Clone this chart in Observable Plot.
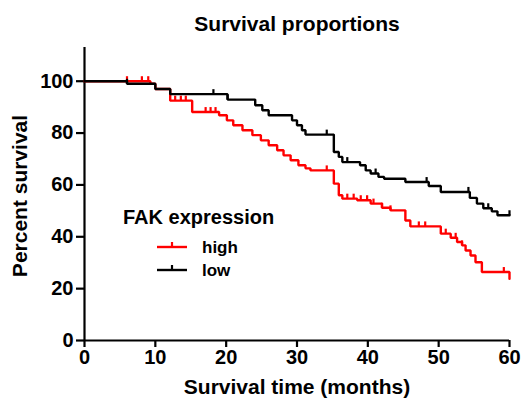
<!DOCTYPE html>
<html><head><meta charset="utf-8">
<script src="https://cdn.jsdelivr.net/npm/d3@7"></script>
<script src="https://cdn.jsdelivr.net/npm/@observablehq/plot@0.6"></script>
<style>
body{margin:0;background:#fff;}
#wrap{position:relative;width:524px;height:406px;font-family:"Liberation Sans",Arial,sans-serif;font-weight:bold;}
#wrap svg{position:absolute;left:0;top:0;}
</style></head><body><div id="wrap"></div>
<script>
// ---- data ----
const chartTitle = "Survival proportions";
const xLabel = "Survival time (months)";
const yLabel = "Percent survival";
const legendTitle = "FAK expression";
const seriesNames = ["high", "low"];
const seriesColors = ["#ff0000", "#000000"];

const xTicks = [0, 10, 20, 30, 40, 50, 60];
const yTicks = [0, 20, 40, 60, 80, 100];

// high FAK expression (red)
const highTimes = [0, 9.3, 10.0, 12.1, 15.2, 19.0, 20.1, 21.0, 22.3, 23.7, 24.9, 26.0, 27.2, 28.1, 29.1, 30.2, 31.2, 31.9, 35.2, 35.9, 36.4, 38.5, 40.4, 42.0, 43.2, 45.3, 46.0, 50.3, 51.7, 52.6, 53.3, 53.8, 54.5, 55.2, 56.1, 60];
const highSurv  = [100, 99, 97, 92.5, 88.1, 86.9, 84.9, 83.0, 81.1, 79.2, 77.2, 75.3, 73.4, 71.4, 69.5, 67.6, 66.4, 65.6, 60.5, 56.0, 54.7, 54.1, 52.8, 51.2, 50.2, 46.3, 44.0, 41.2, 39.6, 38.0, 36.7, 34.7, 32.8, 30.2, 26.4, 23.8];
const highCensor = [6.0, 8.1, 9.0, 12.8, 13.6, 14.3, 17.1, 17.8, 18.5, 34.2, 37.1, 38.0, 39.0, 39.9, 40.8, 42.0, 43.2, 47.2, 48.1, 51.0, 52.4, 53.3, 59.2];

// low FAK expression (black)
const lowTimes = [0, 6.0, 10.0, 12.1, 20.2, 24.1, 25.1, 26.0, 29.3, 30.0, 30.7, 31.2, 35.2, 35.9, 36.4, 38.9, 39.7, 40.4, 41.5, 42.3, 45.3, 48.6, 50.3, 54.4, 55.4, 56.3, 57.5, 58.3, 60];
const lowSurv  = [100, 99, 97, 95, 92.9, 90.7, 88.8, 86.9, 84.9, 83.0, 81.1, 79.4, 72.7, 70.8, 68.8, 67.6, 65.6, 64.4, 63.1, 62.4, 61.1, 59.6, 57.3, 55.0, 52.8, 51.0, 49.8, 48.3, 48.3];
const lowCensor = [6.0, 18.2, 20.2, 34.2, 37.1, 41.1, 48.3, 54.2, 57.0, 60];

// ---- build tables ----
const toRows = (times, surv) => times.map((t, i) => ({t, s: surv[i]}));
const survAt = (times, surv, t) => { let v = surv[0]; for (let i = 0; i < times.length; i++) if (times[i] <= t) v = surv[i]; return v; };
const highRows = toRows(highTimes, highSurv);
const lowRows = toRows(lowTimes, lowSurv);
const highCens = highCensor.map(t => ({t, s: survAt(highTimes, highSurv, t)}));
const lowCens = lowCensor.map(t => ({t, s: survAt(lowTimes, lowSurv, t)}));

const tickUp = { draw(ctx, size) { const r = Math.sqrt(size / Math.PI); ctx.moveTo(0, 0); ctx.lineTo(0, -r); } };

const chart = Plot.plot({
  width: 524, height: 406,
  marginLeft: 84, marginRight: 15, marginTop: 47, marginBottom: 66,
  style: {fontFamily: "'Liberation Sans', Arial, sans-serif", fontWeight: "bold", fontSize: "20px", background: "#fff", color: "#000"},
  x: {domain: [0, 60]},
  y: {domain: [0, 113]},
  marks: [
    Plot.ruleX([0], {stroke: "#000", strokeWidth: 2.2}),
    Plot.ruleY([0], {stroke: "#000", strokeWidth: 2.2}),
    Plot.axisX({ticks: xTicks, tickSize: 7, tickPadding: 2, strokeWidth: 2.2, label: null, fontSize: 20}),
    Plot.axisY({ticks: yTicks, tickSize: 8, tickPadding: 3, strokeWidth: 2.2, label: null, fontSize: 20}),
    Plot.line(highRows, {x: "t", y: "s", curve: "step-after", stroke: seriesColors[0], strokeWidth: 2.4, strokeLinejoin: "miter"}),
    Plot.dot(highCens, {x: "t", y: "s", symbol: tickUp, r: 5, stroke: seriesColors[0], strokeWidth: 2.2, fill: "none"}),
    Plot.line(lowRows, {x: "t", y: "s", curve: "step-after", stroke: seriesColors[1], strokeWidth: 2.4, strokeLinejoin: "miter"}),
    Plot.dot(lowCens, {x: "t", y: "s", symbol: tickUp, r: 5, stroke: seriesColors[1], strokeWidth: 2.2, fill: "none"}),
    Plot.text([chartTitle], {text: d => d, frameAnchor: "top", dy: -31, fontSize: 21, fontWeight: "bold"}),
    Plot.text([xLabel], {text: d => d, frameAnchor: "bottom", dy: 53, fontSize: 21, fontWeight: "bold"}),
    Plot.text([yLabel], {text: d => d, frameAnchor: "left", textAnchor: "middle", dx: -64, dy: 2, rotate: -90, fontSize: 21, fontWeight: "bold"})
  ]
});
const wrap = document.getElementById("wrap");
wrap.appendChild(chart);

// ---- legend overlay ----
const leg = d3.select(wrap).append("svg").attr("width", 524).attr("height", 406)
  .style("font-family", "'Liberation Sans', Arial, sans-serif").style("font-weight", "bold");
leg.append("text").attr("x", 123).attr("y", 224).attr("font-size", 20).text(legendTitle);
seriesNames.forEach((name, i) => {
  const y = 247 + i * 23;
  leg.append("line").attr("x1", 157).attr("x2", 187).attr("y1", y).attr("y2", y).attr("stroke", seriesColors[i]).attr("stroke-width", 2.4);
  leg.append("line").attr("x1", 172).attr("x2", 172).attr("y1", y).attr("y2", y - 5).attr("stroke", seriesColors[i]).attr("stroke-width", 2.2);
  leg.append("text").attr("x", 202).attr("y", y + 6).attr("font-size", 17).text(name);
});
</script></body></html>
